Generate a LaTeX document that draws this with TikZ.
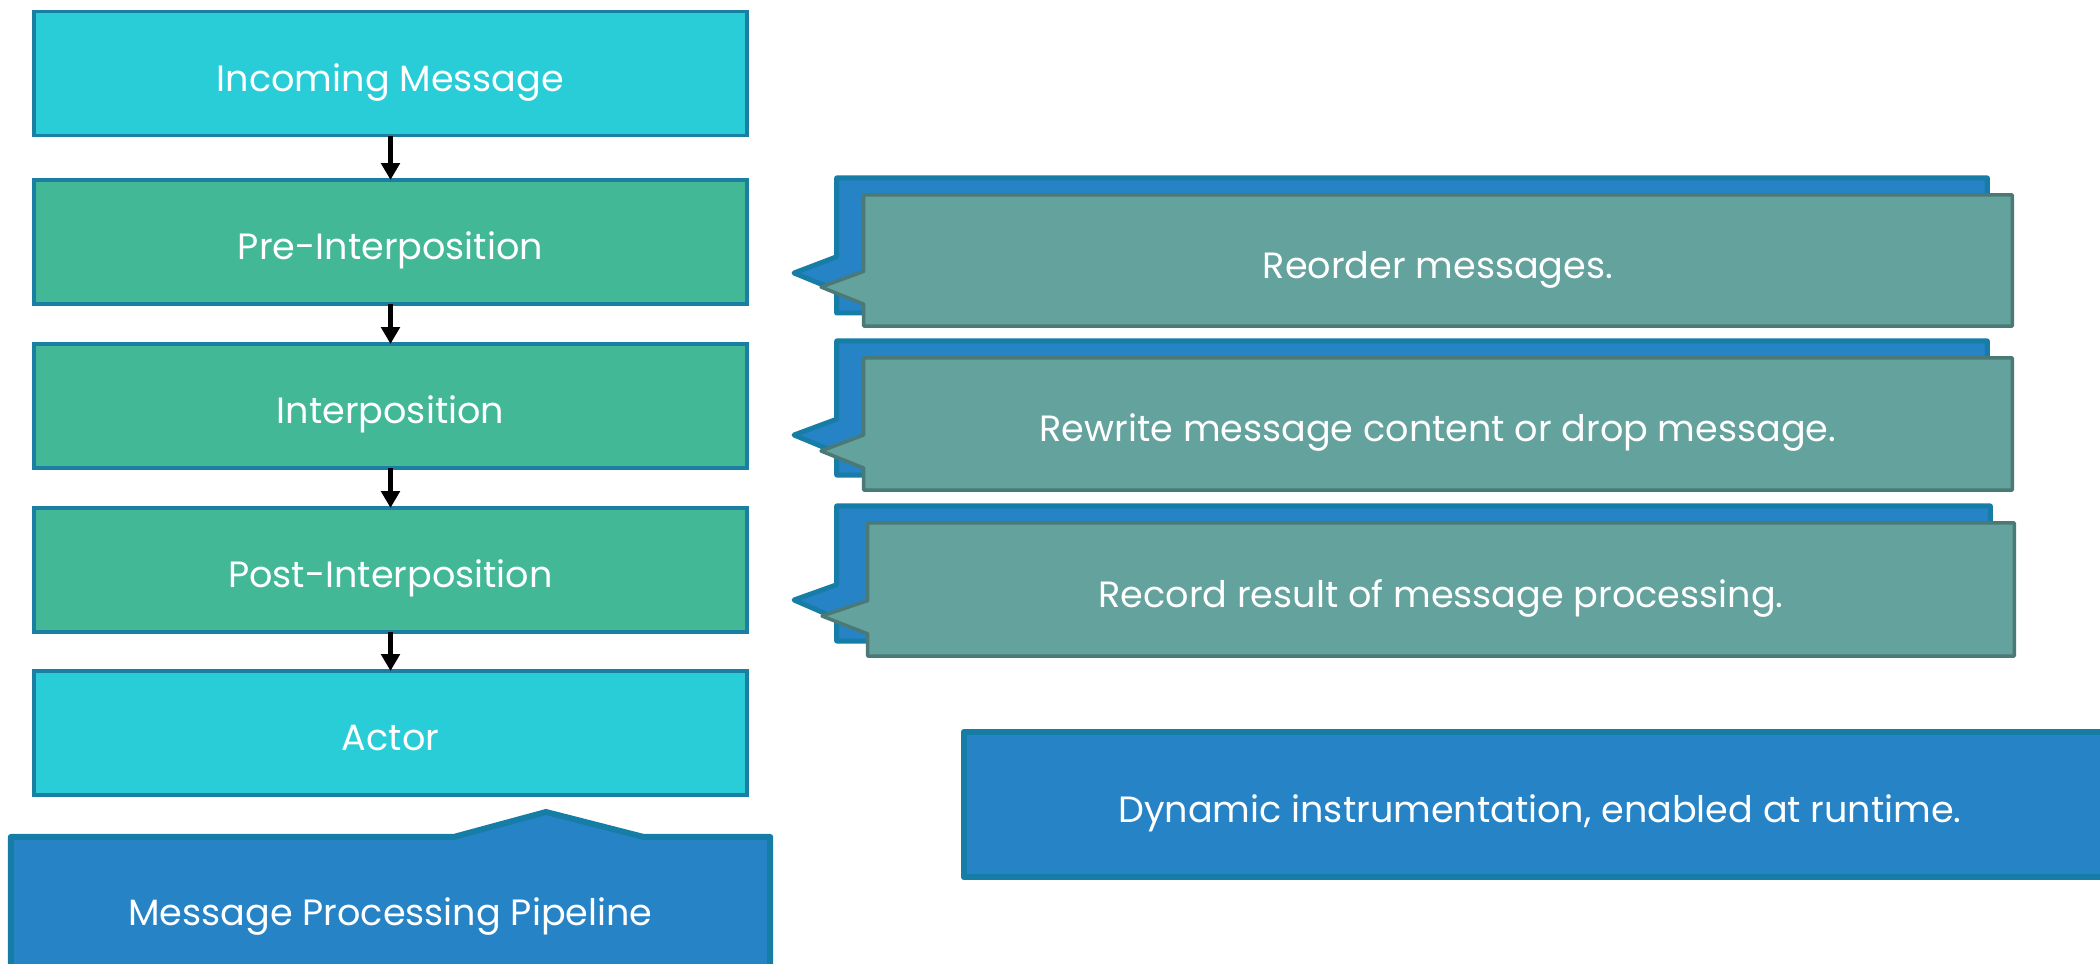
\documentclass[tikz,border=0pt]{standalone}
\usepackage{fontspec}
\setmainfont{Poppins}
\usetikzlibrary{calc,arrows.meta}

\definecolor{cyanfill}{RGB}{41,205,216}
\definecolor{stageedge}{RGB}{27,126,163}
\definecolor{greenfill}{RGB}{67,184,150}
\definecolor{bluefill}{RGB}{38,131,198}
\definecolor{blueedge}{RGB}{22,125,166}
\definecolor{tealfill}{RGB}{100,162,158}
\definecolor{tealedge}{RGB}{75,122,118}

% callout whose wedge leaves the left side of frame #2 towards point #3
\newcommand{\wedgeleft}[3]{%
  \path[#1] (#2.north west) -- (#2.north east) -- (#2.south east) -- (#2.south west)
    -- ($(#2.north west)!10/12!(#2.south west)$) -- #3
    -- ($(#2.north west)!7/12!(#2.south west)$) -- cycle;}
% callout whose wedge leaves the top side of frame #2 towards point #3
\newcommand{\wedgeup}[3]{%
  \path[#1] (#2.south west) -- (#2.north west)
    -- ($(#2.north west)!7/12!(#2.north east)$) -- #3
    -- ($(#2.north west)!10/12!(#2.north east)$)
    -- (#2.north east) -- (#2.south east) -- cycle;}

\begin{document}
\begin{tikzpicture}[x=0.01cm, y=-0.01cm,
  font=\fontsize{10.4}{12.5}\selectfont,
  every node/.style={text height=1.0em, text depth=0pt},
  stage/.style={draw=stageedge, line width=1pt, minimum width=7.13cm,
    minimum height=1.24cm, inner sep=0pt, outer sep=0pt, text=white},
  inbox/.style={stage, fill=cyanfill},
  midbox/.style={stage, fill=greenfill},
  flow/.style={line width=1.7pt, -{Triangle[width=5.2pt,length=4.8pt]}},
  frame/.style={inner sep=0pt, outer sep=0pt, draw=none, text height=0pt},
  backwedge/.style={fill=bluefill, draw=blueedge, line width=1.4pt, line join=round},
  frontwedge/.style={fill=tealfill, draw=tealedge, line width=1pt, line join=round},
  bluebox/.style={fill=bluefill, draw=blueedge, line width=1.7pt, line join=round},
  caption/.style={text=white, inner sep=0pt}]

\useasboundingbox (0,0) rectangle (2100,964);
\clip (0,0) rectangle (2100,964);

% pipeline stages
\node[inbox]  (inc)   at (390.5,73.5) {Incoming Message};
\node[midbox] (pre)   at (390.5,242)  {Pre-Interposition};
\node[midbox] (intp)  at (390.5,406)  {Interposition};
\node[midbox] (post)  at (390.5,570)  {Post-Interposition};
\node[inbox]  (actor) at (390.5,733)  {Actor};

\draw[flow] (inc) -- (pre);
\draw[flow] (pre) -- (intp);
\draw[flow] (intp) -- (post);
\draw[flow] (post) -- (actor);

% frames of the callouts
\node[frame, minimum width=11.50cm, minimum height=1.35cm] (b1) at (1412,245.5) {};
\node[frame, minimum width=11.48cm, minimum height=1.31cm] (f1) at (1438,260.5) {};
\node[frame, minimum width=11.50cm, minimum height=1.34cm] (b2) at (1412,408) {};
\node[frame, minimum width=11.48cm, minimum height=1.32cm] (f2) at (1438,424) {};
\node[frame, minimum width=11.53cm, minimum height=1.35cm] (b3) at (1413.5,573.5) {};
\node[frame, minimum width=11.46cm, minimum height=1.33cm] (f3) at (1441,589.5) {};
\node[frame, minimum width=7.59cm, minimum height=1.42cm] (mpp) at (390.5,908) {};

\coordinate (pb1) at (794,273);
\coordinate (pf1) at (821,287);
\coordinate (pb2) at (794,435);
\coordinate (pf2) at (821,451);
\coordinate (pb3) at (794,600);
\coordinate (pf3) at (822,616);
\coordinate (pm)  at (546,812);

\wedgeleft{backwedge}{b1}{(pb1)}
\wedgeleft{frontwedge}{f1}{(pf1)}
\wedgeleft{backwedge}{b2}{(pb2)}
\wedgeleft{frontwedge}{f2}{(pf2)}
\wedgeleft{backwedge}{b3}{(pb3)}
\wedgeleft{frontwedge}{f3}{(pf3)}
\wedgeup{bluebox}{mpp}{(pm)}

\node[caption] (t1) at (f1) {Reorder messages.};
\node[caption] (t2) at (f2) {Rewrite message content or drop message.};
\node[caption] (t3) at (f3) {Record result of message processing.};
\node[caption] (tm) at (mpp) {Message Processing Pipeline};

% note box on the lower right
\node[bluebox, minimum width=11.52cm, minimum height=1.45cm, inner sep=0pt,
  text=white] (dyn) at (1540,804.5) {Dynamic instrumentation, enabled at runtime.};
\end{tikzpicture}
\end{document}
